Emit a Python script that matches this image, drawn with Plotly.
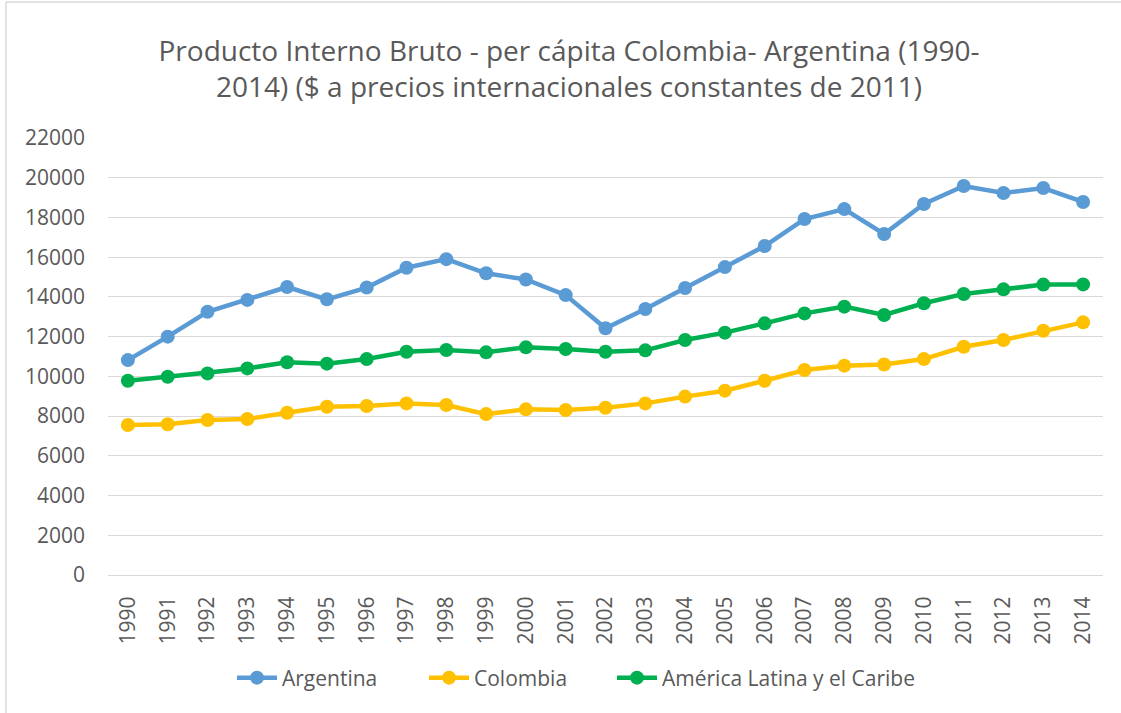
import plotly.graph_objects as go

years = list(range(1990, 2015))
argentina = [10820, 12000, 13250, 13850, 14500, 13880, 14470, 15470, 15900, 15190, 14880, 14090, 12420,
             13390, 14450, 15500, 16560, 17920, 18420, 17170, 18680, 19580, 19230, 19480, 18780]
colombia = [7550, 7590, 7800, 7850, 8170, 8470, 8510, 8640, 8560, 8100, 8340, 8310, 8420,
            8640, 8980, 9280, 9780, 10320, 10540, 10600, 10870, 11490, 11830, 12300, 12720]
america_latina = [9780, 9980, 10150, 10400, 10710, 10640, 10870, 11240, 11330, 11210, 11460, 11380, 11240,
                  11310, 11830, 12200, 12670, 13170, 13510, 13090, 13680, 14150, 14380, 14620, 14630]

series = [
    ("Argentina", argentina, "#5B9BD5"),
    ("Colombia", colombia, "#FFC000"),
    ("América Latina y el Caribe", america_latina, "#00B050"),
]

FONT = "Open Sans"
TXT = "#595959"

W, H = 1121, 713
L, R, T, B = 108, 18, 138, 138
pw, ph = W - L - R, H - T - B

legend_ids = ["legend", "legend2", "legend3"]
legend_left_px = [232, 424, 612]

fig = go.Figure()
for (name, vals, color), lid in zip(series, legend_ids):
    fig.add_trace(go.Scatter(
        x=years, y=vals, name=name, mode="lines+markers",
        line=dict(color=color, width=4.5),
        marker=dict(color=color, size=14),
        legend=lid,
    ))

legend_common = dict(
    orientation="h", xref="paper", xanchor="left",
    y=(575 - 678) / ph, yanchor="middle",
    font=dict(family=FONT, size=21, color=TXT),
    itemwidth=40, bgcolor="rgba(0,0,0,0)",
)
legends = {lid: dict(legend_common, x=(px - L) / pw) for lid, px in zip(legend_ids, legend_left_px)}

fig.update_layout(
    width=W, height=H,
    margin=dict(l=L, r=R, t=T, b=B, autoexpand=False),
    paper_bgcolor="white", plot_bgcolor="white",
    font=dict(family=FONT, color=TXT, size=20),
    title=dict(
        text="Producto Interno Bruto - per cápita Colombia- Argentina (1990-<br>2014) ($ a precios internacionales constantes de 2011)",
        x=569 / W, xanchor="center", xref="container",
        y=1 - 61 / H, yanchor="middle", yref="container",
        font=dict(family=FONT, size=28, color=TXT),
    ),
    showlegend=True,
    xaxis=dict(
        range=[1989.5, 2014.5], tickmode="array", tickvals=years, ticktext=[str(y) for y in years],
        tickangle=-90, showgrid=False, showline=True, linecolor="#D9D9D9", linewidth=1,
        ticks="", ticklabelstandoff=12, zeroline=False,
        tickfont=dict(family=FONT, size=21, color=TXT),
    ),
    yaxis=dict(
        range=[0, 22000], dtick=2000, tickformat="d", showgrid=True, gridcolor="#D9D9D9", gridwidth=1,
        zeroline=False, showline=False, ticks="", ticklabelstandoff=22,
        tickfont=dict(family=FONT, size=21, color=TXT),
    ),
    **legends,
)

# outer chart-area border (left and top edges visible)
fig.add_shape(type="line", xref="paper", yref="paper",
              x0=(6 - L) / pw, x1=(6 - L) / pw, y0=(575 - H - 5) / ph, y1=(575 - 2) / ph,
              line=dict(color="#D9D9D9", width=1.5))
fig.add_shape(type="line", xref="paper", yref="paper",
              x0=(6 - L) / pw, x1=(W + 5 - L) / pw, y0=(575 - 2) / ph, y1=(575 - 2) / ph,
              line=dict(color="#D9D9D9", width=1.5))

fig.write_html("out.html", config={"displayModeBar": False},
               post_script="document.body.style.margin='0';document.body.style.overflow='hidden';")
